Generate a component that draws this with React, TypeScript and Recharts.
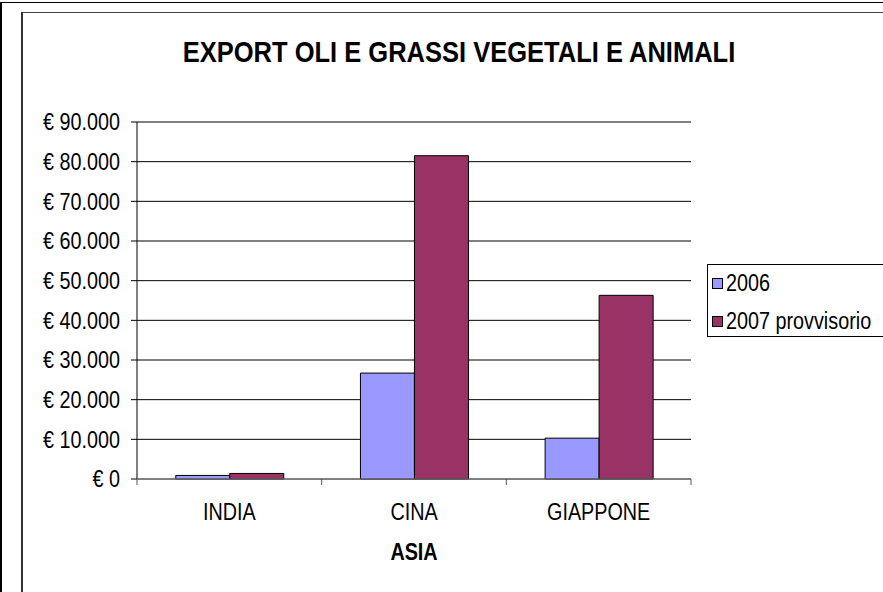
import React from "react";
import { BarChart, Bar, XAxis, YAxis, CartesianGrid, Legend, Label } from "recharts";

const categories = ["INDIA", "CINA", "GIAPPONE"];
const values2006 = [900, 26700, 10300];
const values2007 = [1400, 81500, 46300];
const seriesNames = ["2006", "2007 provvisorio"];
const seriesColors = ["#9999FF", "#993366"];
const yTicks = [0, 10000, 20000, 30000, 40000, 50000, 60000, 70000, 80000, 90000];

const data = categories.map((name, i) => ({ name, a: values2006[i], b: values2007[i] }));

const W = 883;
const H = 592;
const PLOT_LEFT = 137;
const PLOT_RIGHT = 691;
const PLOT_TOP = 122;
const PLOT_BOTTOM = 479;
const BAND = (PLOT_RIGHT - PLOT_LEFT) / categories.length;
const FONT = '"Liberation Sans", Arial, sans-serif';
const FS = 23;
const SX = 0.86;

const euro = (v: number) => "€ " + String(v).replace(/\B(?=(\d{3})+(?!\d))/g, ".");

const YTick = (props: any) => {
  const { y, payload } = props;
  return (
    <g transform={`translate(${PLOT_LEFT - 17},${y}) scale(${SX},1)`}>
      <text x={0} y={0} dy="0.36em" textAnchor="end" fontSize={FS} fontFamily={FONT} fill="#000">
        {euro(payload.value)}
      </text>
    </g>
  );
};

const XTick = (props: any) => {
  const { x, payload } = props;
  const index = props.index ?? payload.index;
  const left = x - BAND / 2;
  return (
    <g>
      <line x1={left} x2={left} y1={PLOT_BOTTOM} y2={PLOT_BOTTOM + 6} stroke="#555" />
      {index === categories.length - 1 && (
        <line x1={x + BAND / 2} x2={x + BAND / 2} y1={PLOT_BOTTOM} y2={PLOT_BOTTOM + 6} stroke="#555" />
      )}
      <g transform={`translate(${x},${PLOT_BOTTOM + 41}) scale(${SX},1)`}>
        <text x={0} y={0} textAnchor="middle" fontSize={FS} fontFamily={FONT} fill="#000">
          {payload.value}
        </text>
      </g>
    </g>
  );
};

const LegendBox = () => (
  <div
    style={{
      position: "relative",
      width: 200,
      height: 73,
      boxSizing: "border-box",
      border: "1px solid #000",
      background: "#fff",
      fontFamily: FONT,
    }}
  >
    {seriesNames.map((n, i) => (
      <div
        key={n}
        style={{ position: "absolute", left: 4, top: 6 + i * 38, height: 25, display: "flex", alignItems: "center" }}
      >
        <span
          style={{
            display: "inline-block",
            width: 9,
            height: 9,
            border: "1px solid #000",
            background: seriesColors[i],
          }}
        />
        <span
          style={{
            display: "inline-block",
            marginLeft: 3,
            fontSize: FS,
            lineHeight: "25px",
            whiteSpace: "nowrap",
            transform: `scaleX(${SX})`,
            transformOrigin: "left center",
          }}
        >
          {n}
        </span>
      </div>
    ))}
  </div>
);

export default function App() {
  return (
    <div style={{ position: "fixed", left: 0, top: 0, width: W, height: H, background: "#fff", overflow: "hidden" }}>
      {/* outer and inner frame */}
      <div style={{ position: "absolute", left: 0, top: 2, width: W, height: 1, background: "#000" }} />
      <div style={{ position: "absolute", left: 0, top: 2, width: 2, height: H, background: "#000" }} />
      <div style={{ position: "absolute", left: 21, top: 12, width: W, height: 1, background: "#444" }} />
      <div style={{ position: "absolute", left: 21, top: 12, width: 2, height: H, background: "#333" }} />
      <div
        style={{
          position: "absolute",
          left: 459,
          top: 35,
          fontFamily: FONT,
          fontWeight: "bold",
          fontSize: 30,
          whiteSpace: "nowrap",
          transform: "translateX(-50%) scaleX(0.85)",
        }}
      >
        EXPORT OLI E GRASSI VEGETALI E ANIMALI
      </div>
      <div style={{ position: "absolute", left: 0, top: 0 }}>
        <BarChart
          width={W}
          height={H}
          data={data}
          margin={{ top: PLOT_TOP, right: W - PLOT_RIGHT, bottom: 0, left: 0 }}
          barCategoryGap="21%"
          barGap={0}
        >
          <CartesianGrid vertical={false} stroke="#000" />
          <YAxis
            width={PLOT_LEFT}
            domain={[0, 90000]}
            ticks={yTicks}
            interval={0}
            axisLine={{ stroke: "#000" }}
            tickLine={{ stroke: "#000" }}
            tickSize={6}
            tick={<YTick />}
          />
          <XAxis
            dataKey="name"
            height={H - PLOT_BOTTOM}
            interval={0}
            axisLine={{ stroke: "#808080" }}
            tickLine={false}
            tick={<XTick />}
          >
            <Label
              content={() => (
                <g transform={`translate(${(PLOT_LEFT + PLOT_RIGHT) / 2},560) scale(${SX},1)`}>
                  <text x={0} y={0} textAnchor="middle" fontSize={FS} fontWeight="bold" fontFamily={FONT} fill="#000">
                    ASIA
                  </text>
                </g>
              )}
            />
          </XAxis>
          <Legend
            layout="vertical"
            align="center"
            verticalAlign="middle"
            wrapperStyle={{ left: 707, top: 264, width: 200, height: 73 }}
            content={() => <LegendBox />}
          />
          <Bar dataKey="a" name={seriesNames[0]} fill={seriesColors[0]} stroke="#000" strokeWidth={1} isAnimationActive={false} />
          <Bar dataKey="b" name={seriesNames[1]} fill={seriesColors[1]} stroke="#000" strokeWidth={1} isAnimationActive={false} />
        </BarChart>
      </div>
    </div>
  );
}
